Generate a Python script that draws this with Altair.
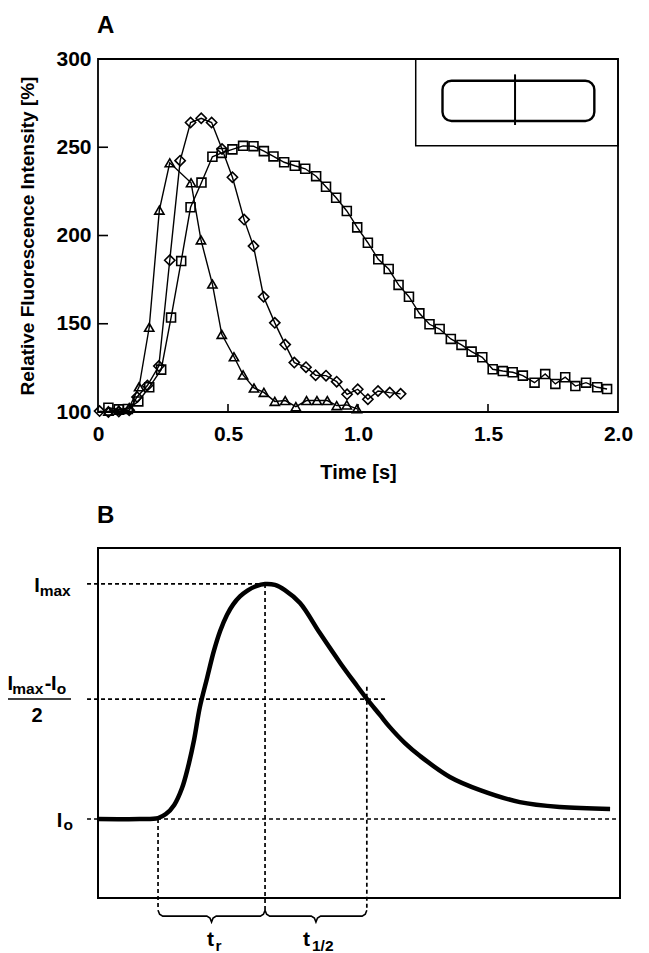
import altair as alt
import pandas as pd

# ---------------- Panel A data ----------------
SQ_T = [0.04, 0.08, 0.115, 0.155, 0.197, 0.243, 0.281, 0.32, 0.356, 0.398, 0.44, 0.476,
        0.517, 0.558, 0.598, 0.638, 0.675, 0.716, 0.757, 0.797, 0.839, 0.877, 0.916, 0.957,
        0.997, 1.038, 1.078, 1.118, 1.156, 1.196, 1.236, 1.275, 1.314, 1.357, 1.398, 1.437,
        1.478, 1.518, 1.557, 1.595, 1.634, 1.679, 1.72, 1.759, 1.797, 1.836, 1.877, 1.92, 1.958]
SQ_V = [102.4, 101.5, 101.7, 106, 114, 124, 153.5, 185.5, 216, 230, 244.6, 246.8,
        248.8, 250.8, 250.6, 247.8, 244.8, 241.5, 239.5, 237.8, 233.6, 227.6, 221.4, 213.9,
        204.6, 195.9, 186.5, 181, 172, 165.3, 155.9, 149.7, 147, 141.4, 138, 134.2,
        131, 124.2, 123.2, 122.5, 120.6, 116.6, 121.5, 115.9, 119.7, 114.7, 116.6, 114, 113]

DI_T = [0.006, 0.04, 0.08, 0.12, 0.15, 0.19, 0.234, 0.276, 0.316, 0.356, 0.397, 0.437,
        0.477, 0.517, 0.562, 0.598, 0.637, 0.68, 0.72, 0.755, 0.8, 0.837, 0.877, 0.918,
        0.958, 0.999, 1.038, 1.077, 1.122, 1.164]
DI_V = [100.5, 100, 100.3, 101, 108.5, 115, 126, 186, 242.4, 264, 266.4, 264,
        249, 233, 209, 194, 165.3, 150.5, 138.2, 128, 125.4, 120.8, 120.6, 117.2,
        110, 112.9, 107.2, 111.9, 111, 110.3]

TR_T = [0.04, 0.08, 0.12, 0.158, 0.197, 0.236, 0.276, 0.358, 0.396, 0.44, 0.476, 0.523,
        0.558, 0.6, 0.638, 0.68, 0.72, 0.761, 0.802, 0.842, 0.882, 0.918, 0.957, 0.996]
TR_V = [100.5, 101, 102.5, 114.3, 148, 214.4, 241.2, 229.9, 197.5, 172.5, 144, 131.3,
        121, 113.6, 111.1, 106, 106.5, 103, 106.5, 106.5, 106.5, 103.6, 104, 101.8]

A_XTICKS = [0, 0.5, 1.0, 1.5, 2.0]
A_YTICKS = [100, 150, 200, 250, 300]
A_XDOM = [0, 2]
A_YDOM = [100, 300]
A_XTITLE = "Time [s]"
A_YTITLE = "Relative Fluorescence Intensity [%]"

# inset (cell sketch), in panel-A units
INSET_BOX_X = [1.222, 2.0]
INSET_BOX_Y = [250.9, 300]
INSET_CELL_X = [1.325, 1.909]
INSET_CELL_Y = [264.9, 287.7]
INSET_CUT_X = 1.604
INSET_CUT_Y = [262.6, 291.3]

# ---------------- Panel B (schematic) ----------------
B_CURVE_X = [0, 8, 11.5, 13.0, 14.6, 16.1, 17.2, 18.4, 19.5, 20.9, 22.2, 23.4, 24.7, 25.9,
             27.2, 28.7, 30.3, 32.0, 33.9, 35.8, 38.7, 42.5, 46.4, 49.2, 51.5, 54.0, 55.9,
             58.8, 61.7, 67.4, 73.2, 80.8, 88.5, 98.1]
B_CURVE_Y = [0, 0, 0.004, 0.021, 0.060, 0.132, 0.217, 0.336, 0.475, 0.600, 0.715, 0.800,
             0.868, 0.913, 0.947, 0.973, 0.991, 1.0, 0.996, 0.974, 0.919, 0.791, 0.664,
             0.579, 0.511, 0.443, 0.391, 0.323, 0.268, 0.179, 0.123, 0.072, 0.051, 0.043]
B_T0, B_TMAX, B_THALF = 11.5, 32.0, 51.5
B_I0, B_IMAX, B_IHALF = 0.0, 1.0, 0.51
B_XDOM = [0, 100]
B_YDOM = [-0.336, 1.153]

# ---------------- layout ----------------
FONT = "Liberation Sans, Arial, Helvetica, sans-serif"
W, H = 522, 839
A_W, A_H = 520, 353
B_TOP = 489

A_XS = alt.Scale(domain=A_XDOM, range=[0, A_W], nice=False, zero=False)
A_YS = alt.Scale(domain=A_YDOM, range=[A_H, 0], nice=False, zero=False)
B_XS = alt.Scale(domain=B_XDOM, range=[0, W], nice=False, zero=False)
B_YS = alt.Scale(domain=B_YDOM, range=[H, B_TOP], nice=False, zero=False)

ONE = pd.DataFrame({"k": [0]})


def ax(f, **kw):
    return alt.X(f, type="quantitative", scale=A_XS, **({"axis": None} | kw))


def ay(f, **kw):
    return alt.Y(f, type="quantitative", scale=A_YS, **({"axis": None} | kw))


def bx(f):
    return alt.X(f, type="quantitative", scale=B_XS, axis=None)


def by(f):
    return alt.Y(f, type="quantitative", scale=B_YS, axis=None)


def txt(s, x, y, size, align="left", baseline="alphabetic"):
    return alt.Chart(ONE).mark_text(
        text=s, font=FONT, fontSize=size, fontWeight="bold", align=align,
        baseline=baseline, color="black"
    ).encode(x=alt.value(x), y=alt.value(y))


layers = []

# ---- Panel A frame + axes ----
x_axis = alt.Axis(
    orient="bottom", offset=A_H - H, values=A_XTICKS,
    labelExpr="datum.value == 0 ? '0' : format(datum.value, '.1f')",
    ticks=False, tickSize=0, domain=False, grid=False,
    labelFont=FONT, labelFontSize=21, labelFontWeight="bold", labelColor="black",
    labelPadding=11, labelFlush=False, labelOverlap=False,
    title=A_XTITLE, titleFont=FONT, titleFontSize=20, titleFontWeight="bold",
    titleColor="black", titleY=66, titleBaseline="alphabetic",
)
y_axis = alt.Axis(
    orient="left", values=A_YTICKS, ticks=False, tickSize=0, domain=False, grid=False,
    labelFont=FONT, labelFontSize=21, labelFontWeight="bold", labelColor="black",
    labelPadding=7, labelFlush=False, labelOverlap=False,
    title=A_YTITLE, titleFont=FONT, titleFontSize=19, titleFontWeight="bold",
    titleColor="black", titleAngle=270, titleX=-65, titleY=A_H / 2,
    titleBaseline="alphabetic",
)
a_frame_df = pd.DataFrame({"x": [A_XDOM[0]], "x2": [A_XDOM[1]], "y": [A_YDOM[0]], "y2": [A_YDOM[1]]})
layers.append(
    alt.Chart(a_frame_df).mark_rect(filled=False, stroke="black", strokeWidth=1.8).encode(
        x=ax("x", axis=x_axis), x2="x2", y=ay("y", axis=y_axis), y2="y2"
    )
)

# inward ticks
ytk = pd.DataFrame({"v": A_YTICKS[1:-1]})
layers.append(
    alt.Chart(ytk).mark_rule(color="black", strokeWidth=1.6).encode(
        x=alt.value(0), x2=alt.value(10), y=ay("v")
    )
)
xtk = pd.DataFrame({"v": A_XTICKS[1:-1]})
layers.append(
    alt.Chart(xtk).mark_rule(color="black", strokeWidth=1.6).encode(
        x=ax("v"), y=alt.value(A_H - 8), y2=alt.value(A_H)
    )
)

# inset
box_df = pd.DataFrame({"x": [INSET_BOX_X[0]], "x2": [INSET_BOX_X[1]], "y": [INSET_BOX_Y[0]], "y2": [INSET_BOX_Y[1]]})
layers.append(
    alt.Chart(box_df).mark_rect(filled=False, stroke="black", strokeWidth=1.5).encode(
        x=ax("x"), x2="x2", y=ay("y"), y2="y2"
    )
)
cell_df = pd.DataFrame({"x": [INSET_CELL_X[0]], "x2": [INSET_CELL_X[1]], "y": [INSET_CELL_Y[0]], "y2": [INSET_CELL_Y[1]]})
layers.append(
    alt.Chart(cell_df).mark_rect(filled=False, stroke="black", strokeWidth=2.4, cornerRadius=9).encode(
        x=ax("x"), x2="x2", y=ay("y"), y2="y2"
    )
)
cut_df = pd.DataFrame({"x": [INSET_CUT_X], "y": [INSET_CUT_Y[0]], "y2": [INSET_CUT_Y[1]]})
layers.append(
    alt.Chart(cut_df).mark_rule(color="black", strokeWidth=2).encode(x=ax("x"), y=ay("y"), y2="y2")
)

# data series
for t, v, shape, size in [
    (TR_T, TR_V, "triangle-up", 85),
    (DI_T, DI_V, "diamond", 105),
    (SQ_T, SQ_V, "square", 80),
]:
    df = pd.DataFrame({"t": t, "v": v})
    base = alt.Chart(df)
    layers.append(base.mark_line(color="black", strokeWidth=1.4).encode(x=ax("t"), y=ay("v")))
    layers.append(
        base.mark_point(shape=shape, size=size, filled=False, color="black",
                        strokeWidth=1.6, opacity=1).encode(x=ax("t"), y=ay("v"))
    )

# ---- Panel B ----
b_frame_df = pd.DataFrame({"x": [B_XDOM[0]], "x2": [B_XDOM[1]], "y": [B_YDOM[0]], "y2": [B_YDOM[1]]})
layers.append(
    alt.Chart(b_frame_df).mark_rect(filled=False, stroke="black", strokeWidth=2).encode(
        x=bx("x"), x2="x2", y=by("y"), y2="y2"
    )
)

BR_Y, BR_END, BR_TIP = -0.413, -0.388, -0.438
LEFT_START = -2.1
guides = pd.DataFrame({
    "x":  [LEFT_START, LEFT_START, LEFT_START, B_T0, B_TMAX, B_THALF],
    "x2": [B_TMAX, 55.2, B_XDOM[1], B_T0, B_TMAX, B_THALF],
    "y":  [B_IMAX, B_IHALF, B_I0, B_I0, B_IMAX, B_IHALF + 0.053],
    "y2": [B_IMAX, B_IHALF, B_I0, BR_END, BR_END, BR_END],
})
layers.append(
    alt.Chart(guides).mark_rule(color="black", strokeWidth=1.7, strokeDash=[4, 3]).encode(
        x=bx("x"), x2="x2", y=by("y"), y2="y2"
    )
)

curve = pd.DataFrame({"x": B_CURVE_X, "y": B_CURVE_Y})
layers.append(
    alt.Chart(curve).mark_line(color="black", strokeWidth=4.5, interpolate="catmull-rom").encode(
        x=bx("x"), y=by("y")
    )
)


def brace(x0, x1):
    xm = (x0 + x1) / 2
    xs = [x0, x0 + 0.3, x0 + 0.9, xm - 0.9, xm - 0.3, xm, xm + 0.3, xm + 0.9, x1 - 0.9, x1 - 0.3, x1]
    ys = [BR_END, BR_Y + 0.008, BR_Y, BR_Y, BR_Y - 0.008, BR_TIP, BR_Y - 0.008, BR_Y, BR_Y, BR_Y + 0.008, BR_END]
    return pd.DataFrame({"x": xs, "y": ys, "o": list(range(len(xs)))})


for a, b in [(B_T0, B_TMAX), (B_TMAX, B_THALF)]:
    layers.append(
        alt.Chart(brace(a, b)).mark_line(color="black", strokeWidth=1.6).encode(
            x=bx("x"), y=by("y"), order="o:Q"
        )
    )

# fraction bar
layers.append(
    alt.Chart(ONE).mark_rule(color="black", strokeWidth=1.6).encode(
        x=alt.value(-90), x2=alt.value(-27), y=alt.value(640)
    )
)

# texts
layers += [
    txt("A", -1, -26, 24),
    txt("B", -1, 464, 24),
    txt("I", -63.8, 533, 20), txt("max", -58.3, 537, 15.5),
    txt("I", -90.5, 631, 20), txt("max", -85.7, 635, 15.5),
    txt("-", -53.2, 631, 20), txt("I", -46.9, 631, 20), txt("o", -41.3, 635, 15.5),
    txt("2", -61, 662.7, 20, align="center"),
    txt("I", -41.3, 767.7, 20), txt("o", -34.5, 771, 15.5),
    txt("t", 109, 887, 21), txt("r", 117.5, 892, 15.5),
    txt("t", 205, 887, 21), txt("1/2", 214, 892, 15.5),
]

chart = (
    alt.layer(*layers)
    .resolve_scale(x="independent", y="independent")
    .properties(
        width=W, height=H,
        autosize=alt.AutoSizeParams(type="none"),
        padding={"left": 90, "top": 51, "right": 21, "bottom": 55},
    )
    .configure_view(stroke=None)
)

chart.save("out.html", embed_options={"renderer": "svg", "actions": False})
